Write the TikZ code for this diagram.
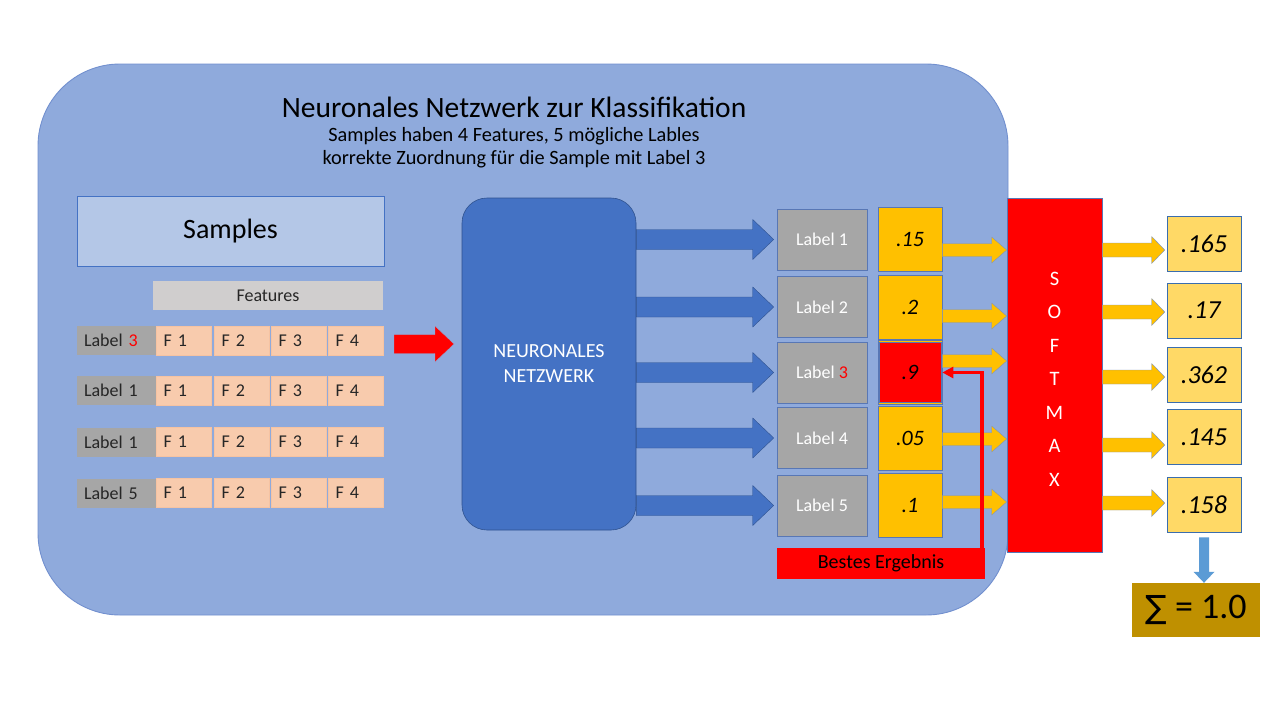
\documentclass[tikz,border=0pt]{standalone}
\usepackage{fontspec}
\setmainfont{Carlito}
\newfontfamily\sumfont{DejaVu Sans}
\usetikzlibrary{arrows.meta,calc}

\definecolor{framefill}{HTML}{8FAADC}
\definecolor{framedraw}{HTML}{7290CF}
\definecolor{accentblue}{HTML}{4472C4}
\definecolor{darkblue}{HTML}{2F528F}
\definecolor{samplefill}{HTML}{B4C7E7}
\definecolor{barfill}{HTML}{D0CECE}
\definecolor{featfill}{HTML}{F8CBAD}
\definecolor{featdraw}{HTML}{F6C3A2}
\definecolor{greyfill}{HTML}{A6A6A6}
\definecolor{greydraw}{HTML}{5877B5}
\definecolor{gold}{HTML}{FFC000}
\definecolor{paleGold}{HTML}{FFD966}
\definecolor{outdraw}{HTML}{3A6DAE}
\definecolor{sumfill}{HTML}{BF9000}
\definecolor{skyblue}{HTML}{5B9BD5}
\definecolor{textgrey}{HTML}{262626}

% block arrow from #2 to #3: shaft half width #4, head half width #5, head length #6
\newcommand\blockarrow[6]{%
  \draw[#1] let \p1=#2, \p2=#3 in
    (\x1,\y1+#4) -- (\x2-#6,\y1+#4) -- (\x2-#6,\y1+#5) -- (\x2,\y1)
    -- (\x2-#6,\y1-#5) -- (\x2-#6,\y1-#4) -- (\x1,\y1-#4) -- cycle;}

\tikzset{
  every node/.style={inner sep=0pt},
  frame/.style={fill=framefill,draw=framedraw,line width=0.9pt,rounded corners=82pt},
  samplesbox/.style={fill=samplefill,draw=accentblue,line width=0.6pt,
    minimum width=307,minimum height=70,font={\fontsize{28}{32}\selectfont}},
  featbar/.style={fill=barfill,minimum width=230,minimum height=29,
    text=textgrey,font={\fontsize{18}{21}\selectfont}},
  rowlabel/.style={fill=greyfill,minimum height=29,text width=65,inner xsep=7pt,
    align=left,text=textgrey,font={\fontsize{18}{21}\selectfont}},
  featbox/.style={fill=featfill,draw=featdraw,line width=0.4pt,minimum height=29,
    text width=41,inner xsep=7pt,align=left,text=textgrey,font={\fontsize{18}{21}\selectfont}},
  netbox/.style={fill=accentblue,draw=darkblue,line width=0.6pt,rounded corners=25pt,
    minimum width=174,minimum height=332,text=white,align=center,
    font={\fontsize{20}{25}\selectfont}},
  outlabel/.style={fill=greyfill,draw=greydraw,line width=0.6pt,minimum width=90,
    minimum height=61,text=white,font={\fontsize{18}{21}\selectfont}},
  valbox/.style={fill=gold,draw=greydraw,line width=0.6pt,minimum width=64,
    minimum height=64,font={\fontsize{22}{26}\selectfont\itshape}},
  bestbox/.style={fill=red,minimum width=208,minimum height=31,
    font={\fontsize{20}{24}\selectfont}},
  softbox/.style={fill=red,draw=greydraw,line width=0.6pt,minimum width=95,
    minimum height=354},
  softtext/.style={text=white,align=center,font={\fontsize{20.5}{33.5}\selectfont}},
  resbox/.style={fill=paleGold,draw=outdraw,line width=0.6pt,minimum width=74,
    minimum height=55,font={\fontsize{26}{30}\selectfont\itshape}},
  sumbox/.style={fill=sumfill,minimum width=128,minimum height=54,
    font={\fontsize{36}{40}\selectfont}},
  bluearrow/.style={fill=accentblue,draw=darkblue,line width=0.4pt},
  goldarrow/.style={fill=gold,draw=greydraw!80,line width=0.4pt},
  redarrow/.style={fill=red,draw=accentblue!60,line width=0.3pt},
  feedback/.style={draw=red,line width=3.6pt,-{Triangle[length=11pt,width=11pt]}}
}

\begin{document}
\begin{tikzpicture}[x=1pt,y=-1pt]
\useasboundingbox[fill=white] (0,0) rectangle (1280,720);
\draw[frame] (38,64) rectangle (1008,615);

\node (title) at (514,107) {\fontsize{29.5}{34}\selectfont Neuronales Netzwerk zur Klassifikation};
\node[align=center,font={\fontsize{20.3}{23}\selectfont}] (subtitle) at (514,148)
  {Samples haben 4 Features, 5 mögliche Lables\\korrekte Zuordnung für die Sample mit Label 3};

% samples with their features
\node[samplesbox] (samples) at (230.5,231) {Samples};
\node[featbar] (features) at (268,295.5) {Features};
\foreach \r/\lab/\yy in {1/{Label \textcolor{red}{3}}/340.5,2/Label 1/390.5,3/Label 1/442,4/Label 5/493}{
  \node[rowlabel] (s\r) at (116.5,\yy) {\lab};
  \foreach \c/\xx in {1/184,2/242,3/299,4/356}{
    \node[featbox] (f\r\c) at (\xx,\yy) {F \c};
  }
}
\coordinate (netin1) at (394,344);
\coordinate (netin2) at (454,344);
\blockarrow{redarrow}{(netin1)}{(netin2)}{9.5pt}{18pt}{19pt}

\node[netbox] (nn) at (549,364) {NEURONALES\\NETZWERK};

% network outputs
\foreach \i/\lab/\yy/\val in {1/Label 1/239.5/.15,2/Label 2/307/.2,3/{Label \textcolor{red}{3}}/372.5/.9,4/Label 4/438/.05,5/Label 5/505.5/.1}{
  \node[outlabel] (l\i) at (822,\yy) {\lab};
  \node[valbox] (v\i) at (910,\yy) {\val};
  \blockarrow{bluearrow}{(nn.east |- l\i)}{($(l\i.west)+(-3,0)$)}{10pt}{20pt}{21pt}
}
\node[valbox,fill=red,minimum width=62,minimum height=60] at (v3) {.9};

\node[softbox] (sm) at (1054.5,375) {};
\node[softtext] (smtext) at (1054.5,379) {S\\O\\F\\T\\M\\A\\X};
\foreach \i/\yy in {1/250,2/316,3/361,4/439,5/502}{
  \blockarrow{goldarrow}{(v\i.east |- 0,\yy)}{(sm.west |- 0,\yy)}{6.5pt}{13pt}{15pt}
}

\node[bestbox] (best) at (881,563.5) {Bestes Ergebnis};
\draw[feedback] ($(best.north east)+(-3,0)$) |- (v3.east);

% softmax results
\foreach \i/\yy/\res/\ay in {1/243.5/.165/250,2/310.5/.17/312,3/375/.362/377,4/437/.145/445,5/504.5/.158/503}{
  \node[resbox] (o\i) at (1204,\yy) {\res};
  \blockarrow{goldarrow}{(sm.east |- 0,\ay)}{($(o\i.west |- 0,\ay)+(-2,0)$)}{7pt}{13.5pt}{13pt}
}

\node[sumbox] (sum) at (1196,610) {{\sumfont\fontsize{32}{36}\selectfont ∑} = 1.0};
\fill[skyblue] let \p1=(o5.south), \p2=(sum.north) in
  (\x1-5pt,\y1-5pt) -- (\x1-5pt,\y2+11pt) -- (\x1-10.5pt,\y2+11pt) -- (\x1,\y2)
  -- (\x1+10.5pt,\y2+11pt) -- (\x1+5pt,\y2+11pt) -- (\x1+5pt,\y1-5pt) -- cycle;
\end{tikzpicture}
\end{document}
